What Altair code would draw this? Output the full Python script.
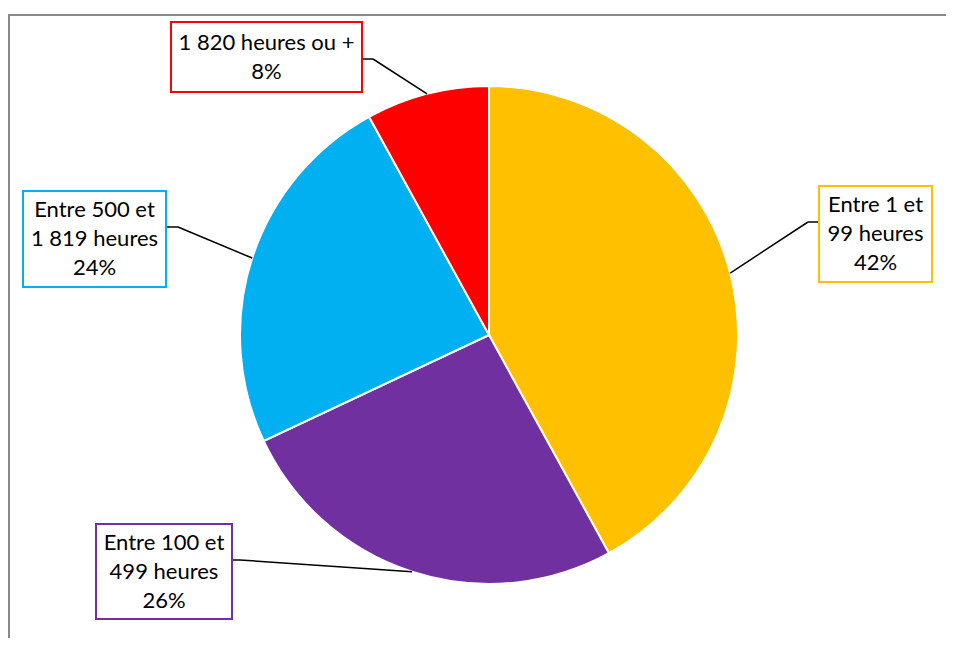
import altair as alt
import pandas as pd

# ---- data ----
categories = ["Entre 1 et 99 heures", "Entre 100 et 499 heures",
              "Entre 500 et 1 819 heures", "1 820 heures ou +"]
label_text = ["Entre 1 et\n99 heures", "Entre 100 et\n499 heures",
              "Entre 500 et\n1 819 heures", "1 820 heures ou +"]
values = [42, 26, 24, 8]
colors = ["#FFC000", "#7030A0", "#00B0F0", "#FF0000"]

# ---- layout (chart pixel coordinates) ----
W, H = 938, 630
CX, CY, R = 481, 327, 249
LH = 29
box_x1 = [811, 88, 15, 163]
box_x2 = [924, 224, 158, 354]
box_y1 = [178, 516, 183, 14]
box_y2 = [274, 611, 279, 84]
elbow_x = [800, 232, 170, 365]
elbow_y = [214, 552, 219, 51]
side_x = [811, 224, 158, 354]

df = pd.DataFrame({
    "order": list(range(len(categories))),
    "cat": categories,
    "lbl": label_text,
    "value": values,
    "bx1": box_x1, "bx2": box_x2, "by1": box_y1, "by2": box_y2,
    "ex": elbow_x, "ey": elbow_y, "sx": side_x,
})

color_scale = alt.Scale(domain=categories, range=colors)
xs = alt.Scale(domain=[0, W], range=[0, W], nice=False, zero=False)
ys = alt.Scale(domain=[0, H], range=[0, H], nice=False, zero=False)

base = alt.Chart(df)

pie = base.mark_arc(radius=R, stroke="white", strokeWidth=2).encode(
    theta=alt.Theta("value:Q", stack=True),
    color=alt.Color("cat:N", scale=color_scale, legend=None),
    order=alt.Order("order:Q"),
    x=alt.value(CX), y=alt.value(CY),
)

geo = base.transform_joinaggregate(total="sum(value)").transform_window(
    cum="sum(value)", sort=[alt.SortField("order")]
).transform_calculate(
    mid="(datum.cum - datum.value/2) / datum.total * 2 * PI",
).transform_calculate(
    px=f"{CX} + {R} * sin(datum.mid)",
    py=f"{CY} - {R} * cos(datum.mid)",
    ey2="datum.ey",
    full="datum.lbl + '\\n' + round(datum.value / datum.total * 100) + '%'",
)

leader1 = geo.mark_rule(color="black", strokeWidth=1.5).encode(
    x=alt.X("px:Q", scale=xs, axis=None),
    y=alt.Y("py:Q", scale=ys, axis=None),
    x2="ex:Q", y2="ey:Q",
)
leader2 = geo.mark_rule(color="black", strokeWidth=1.5).encode(
    x=alt.X("ex:Q", scale=xs, axis=None),
    y=alt.Y("ey:Q", scale=ys, axis=None),
    x2="sx:Q", y2="ey2:Q",
)

boxes = geo.mark_rect(fill="white", strokeWidth=2).encode(
    x=alt.X("bx1:Q", scale=xs, axis=None), x2="bx2:Q",
    y=alt.Y("by1:Q", scale=ys, axis=None), y2="by2:Q",
    stroke=alt.Color("cat:N", scale=color_scale, legend=None),
)

texts = geo.transform_calculate(
    nl="length(split(datum.full, '\\n'))",
).transform_calculate(
    tx="(datum.bx1 + datum.bx2) / 2",
    ty=f"(datum.by1 + datum.by2) / 2 - (datum.nl - 1) / 2 * {LH}",
).mark_text(font="Lato", fontSize=22, lineHeight=LH, lineBreak="\n",
            align="center", baseline="middle", color="black").encode(
    x=alt.X("tx:Q", scale=xs, axis=None),
    y=alt.Y("ty:Q", scale=ys, axis=None),
    text="full:N",
)

frame_top = alt.Chart(df).mark_rule(color="#898989", strokeWidth=2).encode(
    x=alt.value(0), x2=alt.value(W), y=alt.value(7)
)
frame_left = alt.Chart(df).mark_rule(color="#898989", strokeWidth=2).encode(
    x=alt.value(1), y=alt.value(7), y2=alt.value(H)
)

chart = alt.layer(frame_top, frame_left, pie, leader1, leader2, boxes, texts).properties(
    width=W, height=H, padding=0, autosize=alt.AutoSizeParams(type="none")
).configure_view(stroke=None)

chart.save("out.html", embed_options={"renderer": "svg", "actions": False})
